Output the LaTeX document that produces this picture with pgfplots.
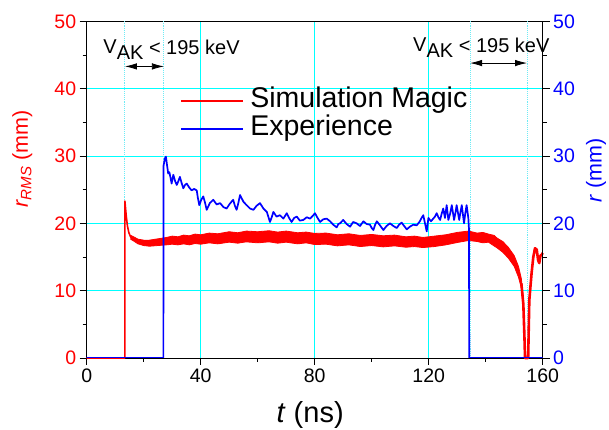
\documentclass[border=0pt]{standalone}
\usepackage{pgfplots}
\pgfplotsset{compat=1.18}
\usepackage{fontspec}
\setmainfont{Liberation Sans}
\usetikzlibrary{arrows.meta}
\definecolor{gridcyan}{RGB}{0,255,255}
\definecolor{dotcyan}{RGB}{110,235,245}
\definecolor{simred}{RGB}{255,0,0}
\definecolor{expblue}{RGB}{0,0,255}

\pgfplotsset{
  common/.style={
    at={(0pt,0pt)}, anchor=south west,
    scale only axis, width=456pt, height=336.7pt,
    xmin=0, xmax=160, ymin=0, ymax=50,
    tick align=outside,
    major tick length=7pt, minor tick length=4pt,
    tick style={black, line width=0.8pt},
    axis line style={black, line width=0.9pt},
    /pgf/number format/assume math mode=true,
    ytick={0,10,...,50}, minor ytick={5,15,...,45},
  }
}

\begin{document}
\begin{tikzpicture}
\path[use as bounding box] (-86.7pt,-72pt) rectangle (522.3pt,358pt);
\begin{axis}[
  common,
  clip=false,
  xtick={0,40,...,160}, minor xtick={20,60,100,140},
  xtick pos=left, ytick pos=left,
  grid=major,
  major grid style={gridcyan, line width=0.9pt},
  extra x ticks={13.4,27.1,134.5,154.5},
  extra x tick labels={},
  extra x tick style={major tick length=0pt, grid=major,
     major grid style={dotcyan, densely dotted, line width=0.9pt}},
  xticklabel style={font=\fontsize{19.5}{19.5}\selectfont, black},
  yticklabel style={font=\fontsize{19.5}{19.5}\selectfont, simred},
  xlabel={\textit{t} (ns)},
  xlabel style={font=\fontsize{29}{29}\selectfont, at={(axis description cs:0.49,-0.169)}, anchor=center},
  ylabel={\textit{r}\textsubscript{\textit{RMS}} (mm)},
  ylabel style={font=\fontsize{21.5}{21.5}\selectfont, simred, at={(axis description cs:-0.141,0.591)}, anchor=center},
]
% Simulation Magic: initial spike (thin)
\addplot[simred, line width=1.6pt, line join=round] coordinates {
 (0,0) (13.4,0) (13.4,23.3) (13.6,22.4) (13.9,21.0) (14.3,19.6) (14.8,18.6) (15.4,18.0) (16,17.8)
};
% Simulation Magic: noisy band (upper envelope then lower envelope)
\addplot[simred, fill=simred, line width=0.8pt, line join=round] coordinates {
 (15.5,18.2) (16,18.1) (18,17.65) (20,17.5) (22,17.5) (25,17.7) (28,17.9) (30,18.1) (32,18.0)
 (34,18.25) (36,18.15) (38,18.4) (40,18.3) (43,18.55) (46,18.45) (50,18.75) (53,18.6)
 (56,18.85) (60,18.75) (64,18.9) (67,18.7) (70,18.85) (74,18.6) (77,18.7) (80,18.5)
 (84,18.55) (88,18.3) (92,18.45) (96,18.2) (100,18.35) (104,18.15) (108,18.25) (112,18.0)
 (115,18.1) (118,17.9) (122,18.1) (126,18.3) (130,18.65) (134,18.85) (137,18.55) (139,18.65)
 (141,18.4) (143,18.2) (144,17.8) (146,17.3) (148,16.4) (150,15.2) (151.5,13.6) (152.5,11.8) (153.2,9.0)
 (153.2,8.0) (152.5,10.4) (151.5,12.0) (150,13.6) (148,14.8) (146,15.7) (144,16.35)
 (142,16.9) (141,17.2) (139,17.1) (137,17.3) (134,17.45) (130,17.15) (126,16.8) (122,16.55)
 (118,16.4) (115,16.55) (112,16.45) (108,16.65) (104,16.5) (100,16.7) (96,16.55) (92,16.8)
 (88,16.65) (84,16.9) (80,16.85) (77,17.1) (74,16.95) (70,17.2) (67,17.05) (64,17.25)
 (60,17.1) (56,17.25) (53,17.05) (50,17.2) (46,16.95) (43,17.1) (40,16.9) (38,17.0)
 (36,16.8) (34,16.95) (32,16.8) (30,16.9) (28,16.8) (25,16.7) (22,16.6) (20,16.7) (18,16.95)
 (16,17.5) (15.5,17.6)
} -- cycle;
% Simulation Magic: dip and end
\addplot[simred, line width=2.6pt, line join=round] coordinates {
 (152.5,11.1) (153.2,8.0) (153.6,3.0) (153.8,0) (154.9,0) (155.3,8.6) (156.1,12.6)
 (156.7,15.0) (157.3,16.3) (157.9,16.1) (158.4,14.5) (158.8,14.1) (159.2,15.2)
 (159.6,15.3) (160,15.6)
};
% annotations
\node[anchor=base west, font=\fontsize{20}{20}\selectfont, inner sep=0pt]
  at (axis cs:5.8,45.0) {\raisebox{1.5pt}{V}\raisebox{-5pt}{AK} < 195 keV};
\node[anchor=base west, font=\fontsize{20}{20}\selectfont, inner sep=0pt]
  at (axis cs:114.5,45.3) {\raisebox{1.5pt}{V}\raisebox{-5pt}{AK} < 195 keV};
\draw[{Latex[length=12pt,width=6.5pt]}-{Latex[length=12pt,width=6.5pt]}, line width=0.8pt]
  (axis cs:13.4,43.3) -- (axis cs:27.1,43.3);
\draw[{Latex[length=12pt,width=6.5pt]}-{Latex[length=12pt,width=6.5pt]}, line width=0.8pt]
  (axis cs:134.5,43.8) -- (axis cs:154.5,43.8);
\end{axis}

\begin{axis}[
  common,
  axis x line=none,
  axis y line*=right,
  yticklabel style={font=\fontsize{19.5}{19.5}\selectfont, expblue},
  ylabel={\textit{r} (mm)},
  ylabel style={font=\fontsize{21.5}{21.5}\selectfont, expblue, at={(axis description cs:1.117,0.558)}, anchor=center},
  legend style={draw=none, fill=none, font=\fontsize{28.5}{28.5}\selectfont,
     at={(axis description cs:0.199,0.81)}, anchor=north west,
     row sep=0pt, nodes={inner sep=1pt, text height=19.5pt, text depth=6pt},
     /tikz/every odd column/.append style={column sep=5pt}},
  legend cell align=left,
  legend image code/.code={\draw[#1] (0pt,0pt) -- (62pt,0pt);},
]
\addlegendimage{simred, line width=1.7pt}
\addlegendentry{Simulation Magic}
\addplot[expblue, line width=1.7pt, line join=round] coordinates {
 (0,0) (26.9,0) (26.95,28.5) (27.4,29.6) (27.8,29.9) (28.2,28.6) (28.6,27.4) (29.0,27.6)
 (29.4,26.8) (29.8,25.9) (30.1,26.6) (30.4,27.2) (31.0,26.3) (31.6,25.7) (32.1,26.2)
 (32.7,26.9) (33.3,26.0) (33.9,25.2) (34.5,25.7) (35.1,25.9) (36.0,25.3) (36.8,24.9)
 (37.7,25.1) (38.6,24.9) (39.0,23.8) (39.5,22.7) (40.2,23.5) (40.9,24.0) (41.5,23.1)
 (42.1,22.0) (43.2,23.0) (44.4,23.5) (45.6,22.8) (46.8,23.0) (48.0,22.4) (49.1,22.2)
 (50.2,22.9) (51.4,23.5) (52.0,22.6) (52.6,22.0) (53.2,23.0) (53.8,24.2) (55.0,23.2)
 (56.1,22.7) (57.3,22.2) (58.5,22.0) (59.6,22.6) (60.8,23.0) (62.0,22.2) (63.2,21.7)
 (64.3,20.2) (65.0,21.0) (65.5,21.7) (66.6,21.0) (67.8,21.2) (69.0,20.7) (70.2,21.5)
 (71.0,20.8) (71.9,20.2) (72.8,20.8) (73.7,21.0) (74.8,20.4) (76.0,20.5) (77.2,20.9)
 (78.4,20.7) (79.3,21.1) (80.1,21.5) (81.0,20.8) (81.9,20.2) (83.0,20.6) (84.2,20.7)
 (85.4,20.3) (86.5,19.8) (87.7,19.4) (88.3,19.9) (88.9,20.0) (90.0,20.5) (91.2,19.9)
 (92.4,19.5) (93.5,20.2) (94.7,20.0) (95.9,19.6) (97.1,20.3) (98.2,19.9) (99.4,19.8)
 (100.0,19.3) (100.6,19.0) (101.2,19.8) (101.8,20.3) (102.9,19.7) (104.1,19.0)
 (105.2,19.6) (106.4,20.0) (107.6,19.6) (108.8,19.3) (109.6,19.8) (110.5,20.1)
 (111.4,19.6) (112.3,19.1) (113.4,19.5) (114.6,19.8) (115.8,19.7) (116.9,20.3)
 (117.5,20.8) (118.1,21.2) (118.7,20.0) (119.3,18.8) (119.9,20.8) (120.8,20.3)
 (121.6,20.7) (122.2,21.0) (122.8,21.5) (123.4,20.9) (124.0,20.5) (124.6,21.5)
 (125.1,22.2) (125.7,20.8) (126.3,22.7) (126.9,20.5) (127.5,21.4) (128.1,22.7)
 (128.9,20.5) (129.4,21.6) (129.8,22.7) (130.7,20.5) (131.2,21.8) (131.6,22.7)
 (132.4,20.0) (132.8,21.4) (133.3,22.7) (133.9,20.8) (134.15,19.0) (134.2,0) (160,0)
};
\addlegendentry{Experience}
\end{axis}
\end{tikzpicture}
\end{document}
